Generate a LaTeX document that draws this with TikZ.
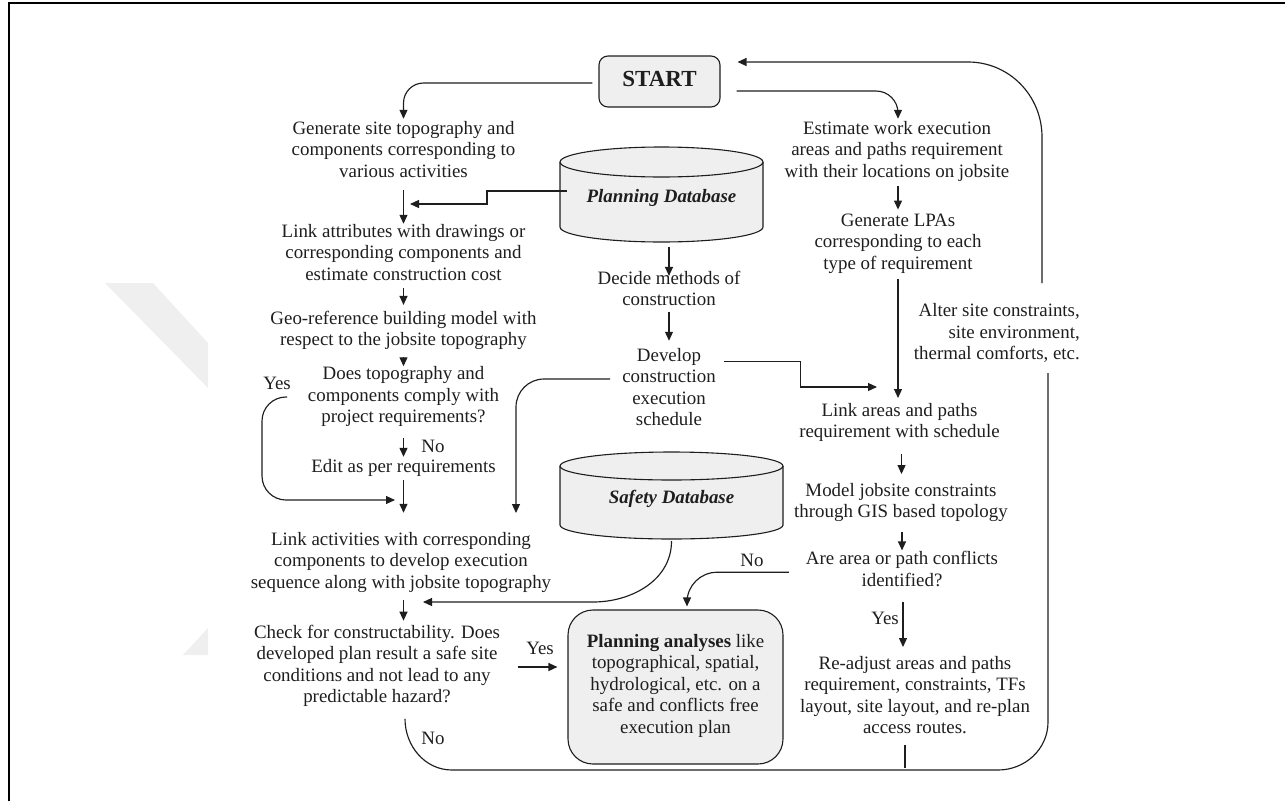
\documentclass[tikz,border=0pt]{standalone}
\usepackage{fontspec}
\setmainfont{Liberation Serif}
\usetikzlibrary{arrows.meta}
\definecolor{ink}{HTML}{1E1E1E}
\definecolor{shade}{HTML}{EFEFEF}
\definecolor{wmark}{HTML}{EFEFEF}
\begin{document}
\begin{tikzpicture}[x=1pt,y=-1pt,
  txt/.style={font=\fontsize{18.9}{21.5}\selectfont, align=center, inner sep=0pt, text=ink,
              execute at begin node=\strut, execute at end node=\strut},
  arr/.style={draw=ink, line width=1.15pt, -{Triangle[length=9pt,width=8pt]}},
  plainline/.style={draw=ink, line width=1.15pt},
  startbox/.style={txt, draw=ink, line width=1.1pt, fill=shade, rounded corners=9pt,
                   minimum width=121pt, minimum height=51pt, font=\fontsize{23}{26}\selectfont\bfseries},
  dbnode/.style={txt, minimum width=#1, font=\fontsize{18.9}{21.5}\selectfont\bfseries\itshape},
  dbshape/.style={draw=ink, line width=1.1pt, fill=shade},
  pabox/.style={txt, draw=ink, line width=1.1pt, fill=shade, rounded corners=25pt,
                minimum width=215pt, minimum height=154pt}
]
\useasboundingbox (0,0) rectangle (1285,801);

% faint background marks
\fill[wmark] (105,283) -- (153,283) -- (208,343) -- (208,388) -- cycle;
\fill[wmark] (183,655) -- (208,628) -- (208,655) -- cycle;

% frame
\draw[black, line width=2pt] (9,801) -- (9,3) -- (1285,3);

% database cylinders
\path[dbshape] (560,162) -- (560,227) arc[start angle=180, end angle=360, x radius=101.5pt, y radius=15pt]
  -- (763,162) arc[start angle=0, end angle=180, x radius=101.5pt, y radius=15pt] -- cycle;
\draw[dbshape, fill=none] (560,162) arc[start angle=180, end angle=360, x radius=101.5pt, y radius=15pt];
\path[dbshape] (560,466) -- (560,525) arc[start angle=180, end angle=360, x radius=111.5pt, y radius=14pt]
  -- (783,466) arc[start angle=0, end angle=180, x radius=111.5pt, y radius=14pt] -- cycle;
\draw[dbshape, fill=none] (560,466) arc[start angle=180, end angle=360, x radius=111.5pt, y radius=14pt];

% left column
\node[txt] (gen) at (403.5,152.25) {Generate site topography and\\components corresponding to\\various activities};
\node[txt] (linkattr) at (403.5,255.25) {Link attributes with drawings or\\corresponding components and\\estimate construction cost};
\node[txt] (georef) at (403.5,331.75) {Geo-reference building model with\\respect to the jobsite topography};
\node[txt] (does) at (403.5,397.75) {Does topography and\\components comply with\\project requirements?};
\node[txt] (yesA) at (277,385) {Yes};
\node[txt] (noA) at (433,448) {No};
\node[txt] (edit) at (403.5,467.75) {Edit as per requirements};
\node[txt] (linkact) at (401,563.25) {Link activities with corresponding\\components to develop execution\\sequence along with jobsite topography};
\node[txt] (check) at (377,667) {Check for constructability. Does\\developed plan result a safe site\\conditions and not lead to any\\predictable hazard?};
\node[txt] (yesB) at (540,650) {Yes};
\node[txt] (noB) at (433,740) {No};

% middle column
\node[startbox] (start) at (659.5,81.5) {START};
\node[dbnode=203pt, minimum height=95pt] (pdb) at (661.5,194.5) {\raisebox{-4.5pt}{Planning Database}};
\node[txt] (decide) at (669,291.75) {Decide methods of\\construction};
\node[txt] (develop) at (669,390) {Develop\\construction\\execution\\schedule};
\node[dbnode=223pt, minimum height=87pt] (sdb) at (671.5,495.5) {\raisebox{-4.5pt}{Safety Database}};
\node[pabox] (pa) at (675.5,687) {\textbf{Planning analyses} like\\topographical, spatial,\\hydrological, etc. on a\\safe and conflicts free\\execution plan};
\node[txt] (noC) at (752,562) {No};

% right column
\node[txt] (est) at (897,152.25) {Estimate work execution\\areas and paths requirement\\with their locations on jobsite};
\node[txt] (lpa) at (898,244.75) {Generate LPAs\\corresponding to each\\type of requirement};
\node[txt, align=right, anchor=east] (alter) at (1080,334.75) {Alter site constraints,\\site environment,\\thermal comforts, etc.};
\node[txt] (linkarea) at (899.5,423.75) {Link areas and paths\\requirement with schedule};
\node[txt] (model) at (901,503.75) {Model jobsite constraints\\through GIS based topology};
\node[txt] (are) at (902,572.25) {Are area or path conflicts\\identified?};
\node[txt] (yesC) at (885,620) {Yes};
\node[txt] (readj) at (915,698.25) {Re-adjust areas and paths\\requirement, constraints, TFs\\layout, site layout, and re-plan\\access routes.};

% free connector ends
\coordinate (pdbin) at (410,204);
\coordinate (yesin) at (395,500);
\coordinate (devin) at (877,387);
\coordinate (lain) at (516,513);
\coordinate (sdbin) at (423,602);

% connectors from START
\draw[arr, rounded corners=20pt] ([xshift=-6pt,yshift=-1.5pt]start.west) -| ([yshift=2pt]gen.north);
\draw[arr, rounded corners=22pt] ([xshift=16pt,yshift=-9.5pt]start.east) -| ([xshift=1pt,yshift=2pt]est.north);

% left column flow
\draw[arr] ([xshift=7pt,yshift=3.5pt]pdb.west) -- (487,191) -- (487,204) -- (pdbin);
\draw[arr, shorten <=6.5pt] (gen.south) -- (linkattr.north);
\draw[arr, shorten <=1.5pt, shorten >=6pt] (linkattr.south) -- (georef.north);
\draw[arr, shorten <=4.5pt] (georef.south) -- (does.north);
\draw[arr, shorten <=8.5pt] (does.south) -- (edit.north);
\draw[arr, shorten <=1.5pt, shorten >=19pt] (edit.south) -- (edit.south |- linkact.north);
\draw[arr, rounded corners=24pt] ([xshift=10pt,yshift=-12pt]yesA.center) -| (262,450) |- (yesin);
\draw[arr, shorten <=5.5pt, shorten >=4pt] ([xshift=2.5pt]linkact.south) -- ([xshift=2.5pt]linkact.south |- check.north);
\draw[arr, shorten <=17.5pt, shorten >=10pt] (check.east) -- (check.east -| pa.west);

% middle column flow
\draw[arr, shorten <=5pt, shorten >=-5pt] (decide.north |- pdb.south) -- (decide.north);
\draw[arr, shorten <=-0.5pt, shorten >=7pt] (decide.south) -- (develop.north);
\draw[arr, rounded corners=28pt] ([xshift=-12pt,yshift=11pt]develop.west) -| (lain);
\draw[arr] ([xshift=8.5pt,yshift=-14pt]develop.north east) -- ++(76pt,0) |- (devin);
\draw[arr] ([yshift=-2pt]sdb.south) to[out=-90,in=0] ([xshift=170pt]sdbin) -- (sdbin);
\draw[arr, rounded corners=30pt] ([xshift=-17pt]are.west) -| ([xshift=11.5pt,yshift=3pt]pa.north);

% right column flow
\draw[arr, shorten <=2.5pt, shorten >=4pt] ([xshift=1pt]est.south) -- (lpa.north);
\draw[arr, shorten <=3.5pt, shorten >=5pt] (lpa.south) -- (lpa.south |- linkarea.north);
\draw[arr, shorten <=9.5pt, shorten >=9pt] ([xshift=2pt]linkarea.south) -- ([xshift=2pt]linkarea.south |- model.north);
\draw[arr, shorten <=7.5pt, shorten >=1pt] ([xshift=1pt]model.south) -- ([xshift=1pt]model.south |- are.north);
\draw[arr, shorten <=8.5pt, shorten >=9pt] ([xshift=1pt]are.south) -- ([xshift=1pt]are.south |- readj.north);
\draw[plainline, shorten <=4.5pt] ([xshift=-10pt]readj.south) -- ++(0,-27.5pt);

% return loop back to START
\draw[arr] ([xshift=28pt,yshift=-9.5pt]check.south) to[out=-90,in=180] (452,770) -- (998,770)
  to[out=0,in=-90] (1048,722) -- (1048,373)
  (1042,283) -- (1042,137) to[out=90,in=0] (968,62) -- ([xshift=17pt,yshift=19.5pt]start.east);
\end{tikzpicture}
\end{document}
